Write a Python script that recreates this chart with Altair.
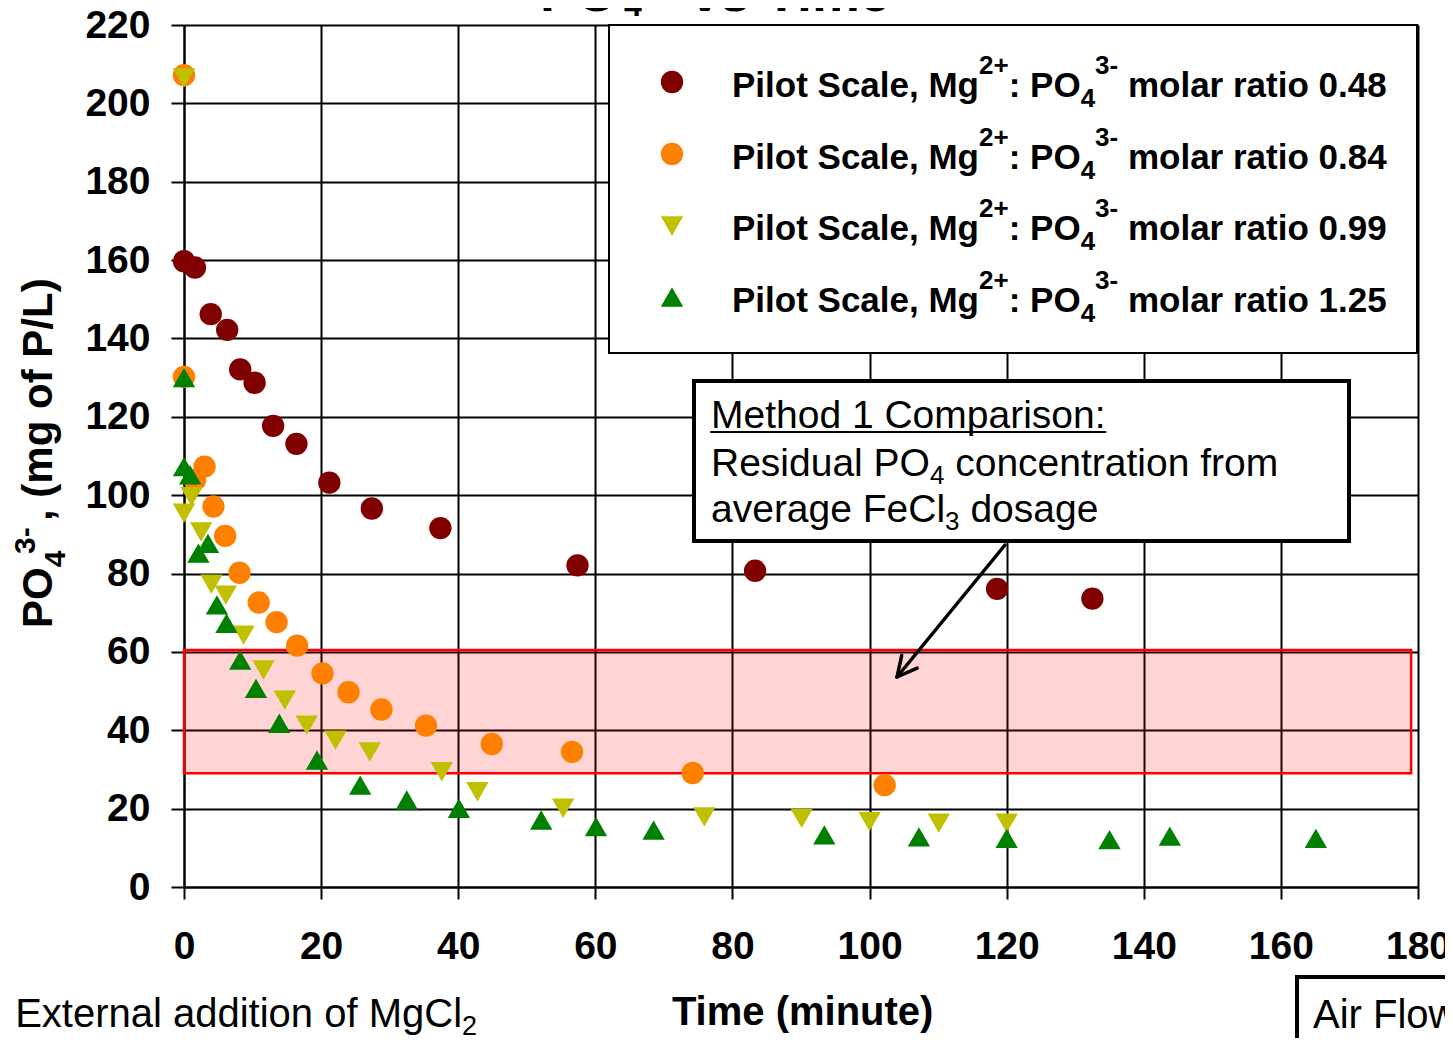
import math
import altair as alt
import pandas as pd

# ------------------------------------------------------------------ data
SERIES = ["0.48", "0.84", "0.99", "1.25"]
COLORS = ["#800000", "#ff8000", "#c0c000", "#008000"]
SHAPES = ["circle", "circle", "triangle-down", "triangle-up"]

time_048 = [0, 1.6, 3.9, 6.3, 8.2, 10.3, 13.0, 16.4, 21.2, 27.4, 37.4, 57.4, 83.3, 118.6, 132.5]
po4_048 = [159.7, 158.1, 146.2, 142.2, 132.1, 128.7, 117.7, 113.1, 103.2, 96.6, 91.6, 82.1, 80.7, 76.1, 73.6]

time_084 = [0, 0, 1.6, 3.0, 4.3, 6.0, 8.1, 10.9, 13.5, 16.5, 20.2, 24.0, 28.8, 35.3, 44.9, 56.6, 74.2, 102.2]
po4_084 = [207.2, 130.2, 103.9, 107.3, 97.1, 89.6, 80.2, 72.6, 67.6, 61.6, 54.5, 49.7, 45.3, 41.2, 36.5, 34.5, 29.1, 26.0]

time_099 = [0, 0, 1.1, 2.5, 4.0, 6.1, 8.7, 11.6, 14.7, 17.9, 22.1, 27.1, 37.6, 42.8, 55.3, 75.9, 90.1, 100.0, 110.1, 120.0]
po4_099 = [206.5, 95.4, 99.6, 90.6, 77.3, 74.5, 64.3, 55.4, 47.7, 41.3, 37.5, 34.5, 29.4, 24.3, 20.1, 17.9, 17.5, 16.7, 16.3, 16.3]

time_125 = [0, 0, 0.9, 2.1, 3.5, 4.8, 6.2, 8.2, 10.5, 13.9, 19.4, 25.7, 32.5, 40.1, 52.1, 60.1, 68.5, 93.4, 107.2, 120.0, 135.0, 143.8, 165.1]
po4_125 = [130.0, 107.3, 105.2, 85.2, 87.7, 72.0, 67.3, 57.9, 50.7, 41.8, 32.4, 26.0, 22.2, 20.1, 17.1, 15.4, 14.5, 13.3, 12.8, 12.4, 12.1, 13.0, 12.4]

X_TICKS = list(range(0, 181, 20))
Y_TICKS = list(range(0, 221, 20))
BAND_TIME = [0, 179]
BAND_PO4 = [29.0, 60.5]

LEGEND_LABEL_MAIN = "Pilot Scale, Mg"
LEGEND_RATIOS = ["0.48", "0.84", "0.99", "1.25"]

# ------------------------------------------------------------------ layout
FONT = "Liberation Sans"
W, H = 1234, 862

W_REG = {' ': 278, '!': 278, '(': 333, ')': 333, '+': 584, ',': 278, '-': 333, '.': 278, '/': 278, ':': 278,
         'A': 667, 'C': 722, 'E': 667, 'F': 611, 'I': 278, 'L': 556, 'M': 833, 'O': 778, 'P': 667, 'R': 722,
         'S': 667, 'T': 611, 'V': 667, 'W': 944,
         'a': 556, 'b': 556, 'c': 500, 'd': 556, 'e': 556, 'f': 278, 'g': 556, 'h': 556, 'i': 222, 'l': 222,
         'm': 833, 'n': 556, 'o': 556, 'p': 556, 'r': 333, 's': 500, 't': 278, 'u': 556, 'v': 500, 'w': 722,
         'x': 500, 'y': 500}
W_BOLD = {' ': 278, '(': 333, ')': 333, '+': 584, ',': 278, '-': 333, '.': 278, '/': 278, ':': 333,
          'A': 722, 'C': 722, 'E': 667, 'F': 611, 'I': 278, 'L': 611, 'M': 833, 'O': 778, 'P': 667, 'S': 667,
          'T': 611, 'a': 556, 'b': 611, 'c': 556, 'd': 611, 'e': 556, 'f': 333, 'g': 611, 'h': 611, 'i': 278,
          'l': 278, 'm': 889, 'n': 611, 'o': 611, 'p': 611, 'r': 389, 's': 556, 't': 333, 'u': 611, 'v': 556,
          'w': 778, 'y': 556}


def tw(s, size, bold):
    tab = W_BOLD if bold else W_REG
    return sum(tab.get(c, 556) for c in s) * size / 1000.0


def run(x, y, parts, bold):
    """parts: list of (text, fontsize, baseline shift). Leading spaces become x offsets."""
    out = []
    cx = x
    for text, fs, dy in parts:
        stripped = text.lstrip(" ")
        lead = text[: len(text) - len(stripped)]
        cx += tw(lead, fs, bold)
        out.append({"x": cx, "y": y + dy, "text": stripped, "fs": fs})
        cx += tw(stripped, fs, bold)
    return out


bold_rows = []
reg_rows = []

# legend text
for i, r in enumerate(LEGEND_RATIOS):
    yb = 72 + 71.7 * i
    bold_rows += run(548, yb, [(LEGEND_LABEL_MAIN, 35, 0), ("2+", 26, -23), (": PO", 35, 0),
                               ("4", 26, 10), ("3-", 26, -23), (" molar ratio " + r, 35, 0)], True)

# chart title (mostly cut off at the top, as in the source)
bold_rows += run(356, -14, [("PO", 54, 0)], True)
bold_rows += [{"x": 440, "y": -9, "text": "4", "fs": 32}, {"x": 460, "y": -50, "text": "3-", "fs": 32}]
bold_rows += run(506, -14, [("vs Time", 54, 0)], True)

# x title
xt_w = tw("Time (minute)", 40, True)
bold_rows += [{"x": 619 - xt_w / 2, "y": 1000, "text": "Time (minute)", "fs": 40}]

# annotation text
reg_rows += run(527, 403, [("Method 1 Comparison:", 39, 0)], False)
reg_rows += run(527, 451, [("Residual PO", 39, 0), ("4", 26, 8), (" concentration from", 39, 0)], False)
reg_rows += run(527, 497, [("average FeCl", 39, 0), ("3", 26, 8), (" dosage", 39, 0)], False)

# bottom texts
ext = ": External addition of MgCl"
reg_rows += run(278 - tw(ext, 40, False), 1002, [(ext, 40, 0), ("2", 27, 8)], False)
reg_rows += run(1129, 1003, [("Air Flow", 40, 0)], False)

# rotated y title (reads bottom -> top)
ytitle_rows = [
    {"x": -132, "y": 603, "text": "PO", "fs": 42},
    {"x": -119, "y": 603 - tw("PO", 42, True), "text": "4", "fs": 30},
    {"x": -149, "y": 529, "text": "3-", "fs": 30},
    {"x": -132, "y": 496, "text": ", (mg of P/L)", "fs": 42},
]

# boxes
boxes = pd.DataFrame([
    {"x": 425, "x2": 1233, "y": 0, "y2": 328, "sw": 2},
    {"x": 510, "x2": 1165, "y": 356, "y2": 516, "sw": 4},
    {"x": 1113, "x2": 1320, "y": 952, "y2": 1070, "sw": 4},
])

# arrow + underline
sx, sy, ex, ey = 821, 520, 713, 652
L = math.hypot(ex - sx, ey - sy)
bx, by = (sx - ex) / L, (sy - ey) / L
legs = []
for a in (math.radians(27), math.radians(-27)):
    rx = bx * math.cos(a) - by * math.sin(a)
    ry = bx * math.sin(a) + by * math.cos(a)
    legs.append({"x": ex, "y": ey, "x2": ex + 22 * rx, "y2": ey + 22 * ry, "sw": 3.5})
rules = pd.DataFrame([{"x": sx, "y": sy, "x2": ex, "y2": ey, "sw": 3.5}] + legs +
                     [{"x": 527, "y": 407, "x2": 527 + tw("Method 1 Comparison:", 39, False), "y2": 407, "sw": 2}])

# ------------------------------------------------------------------ chart
rows = []
for name, ts, ps in zip(SERIES, [time_048, time_084, time_099, time_125],
                        [po4_048, po4_084, po4_099, po4_125]):
    for t, p in zip(ts, ps):
        rows.append({"series": name, "t": t, "p": p})
df = pd.DataFrame(rows)

xs = alt.Scale(domain=[0, 180], nice=False, zero=False)
ys = alt.Scale(domain=[0, 220], nice=False, zero=False)
common_axis = dict(grid=True, gridColor="black", gridWidth=2, gridOpacity=1, domainColor="black",
                   domainWidth=2, tickColor="black", tickWidth=2, labelFont=FONT, labelFontWeight="bold",
                   labelFontSize=39, labelColor="black", labelFlush=False, labelOverlap=False, title=None)
xaxis = alt.Axis(values=X_TICKS, tickSize=12, labelPadding=28, **common_axis)
yaxis = alt.Axis(values=Y_TICKS, tickSize=13, labelPadding=21, **common_axis)

color = alt.Color("series:N", scale=alt.Scale(domain=SERIES, range=COLORS), legend=None)
shape = alt.Shape("series:N", scale=alt.Scale(domain=SERIES, range=SHAPES), legend=None)

band = alt.Chart(pd.DataFrame({"t0": [BAND_TIME[0]], "t1": [BAND_TIME[1]],
                               "p0": [BAND_PO4[0]], "p1": [BAND_PO4[1]]})).mark_rect(
    fill="#ff0000", fillOpacity=0.17, stroke="#ff0000", strokeOpacity=1, strokeWidth=2.5
).encode(x=alt.X("t0:Q", scale=xs, axis=xaxis), x2="t1",
         y=alt.Y("p0:Q", scale=ys, axis=yaxis), y2="p1")

pts = alt.Chart(df).mark_point(filled=True, opacity=1, strokeWidth=0).encode(
    x=alt.X("t:Q", scale=xs, axis=xaxis),
    y=alt.Y("p:Q", scale=ys, axis=yaxis),
    color=color, shape=shape,
    size=alt.Size("series:O", scale=alt.Scale(domain=SERIES, range=[500, 500, 780, 780]), legend=None),
)

px = lambda f: alt.X(f + ":Q", scale=None, axis=None)
py = lambda f: alt.Y(f + ":Q", scale=None, axis=None)

box_layer = alt.Chart(boxes).mark_rect(fill="white", stroke="black").encode(
    x=px("x"), x2="x2", y=py("y"), y2="y2", strokeWidth=alt.StrokeWidth("sw:Q", scale=None, legend=None))

leg_df = pd.DataFrame({"series": SERIES, "lx": [488] * 4, "ly": [57, 129, 201, 272]})
leg_pts = alt.Chart(leg_df).mark_point(filled=True, opacity=1, strokeWidth=0).encode(
    x=px("lx"), y=py("ly"), color=color, shape=shape,
    size=alt.Size("series:O", scale=alt.Scale(domain=SERIES, range=[580, 580, 760, 760]), legend=None))

rule_layer = alt.Chart(rules).mark_rule(color="black", strokeCap="round").encode(
    x=px("x"), x2="x2", y=py("y"), y2="y2", strokeWidth=alt.StrokeWidth("sw:Q", scale=None, legend=None))


def text_layer(rows_, weight, angle=0):
    kw = dict(font=FONT, fontWeight=weight, align="left", baseline="alphabetic", color="black")
    if angle:
        kw["angle"] = angle
    return alt.Chart(pd.DataFrame(rows_)).mark_text(**kw).encode(
        x=px("x"), y=py("y"), text="text:N", size=alt.Size("fs:Q", scale=None, legend=None))


chart = alt.layer(
    band, pts, box_layer, leg_pts, rule_layer,
    text_layer(bold_rows, "bold"), text_layer(reg_rows, "normal"),
    text_layer(ytitle_rows, "bold", 270),
).properties(
    width=W, height=H,
    autosize=alt.AutoSizeParams(type="none"),
    padding={"left": 176, "top": 17, "right": 27, "bottom": 151},
).configure_view(stroke="black", strokeWidth=2).configure(background="white")

chart.save("out.html", embed_options={"renderer": "svg", "actions": False})
